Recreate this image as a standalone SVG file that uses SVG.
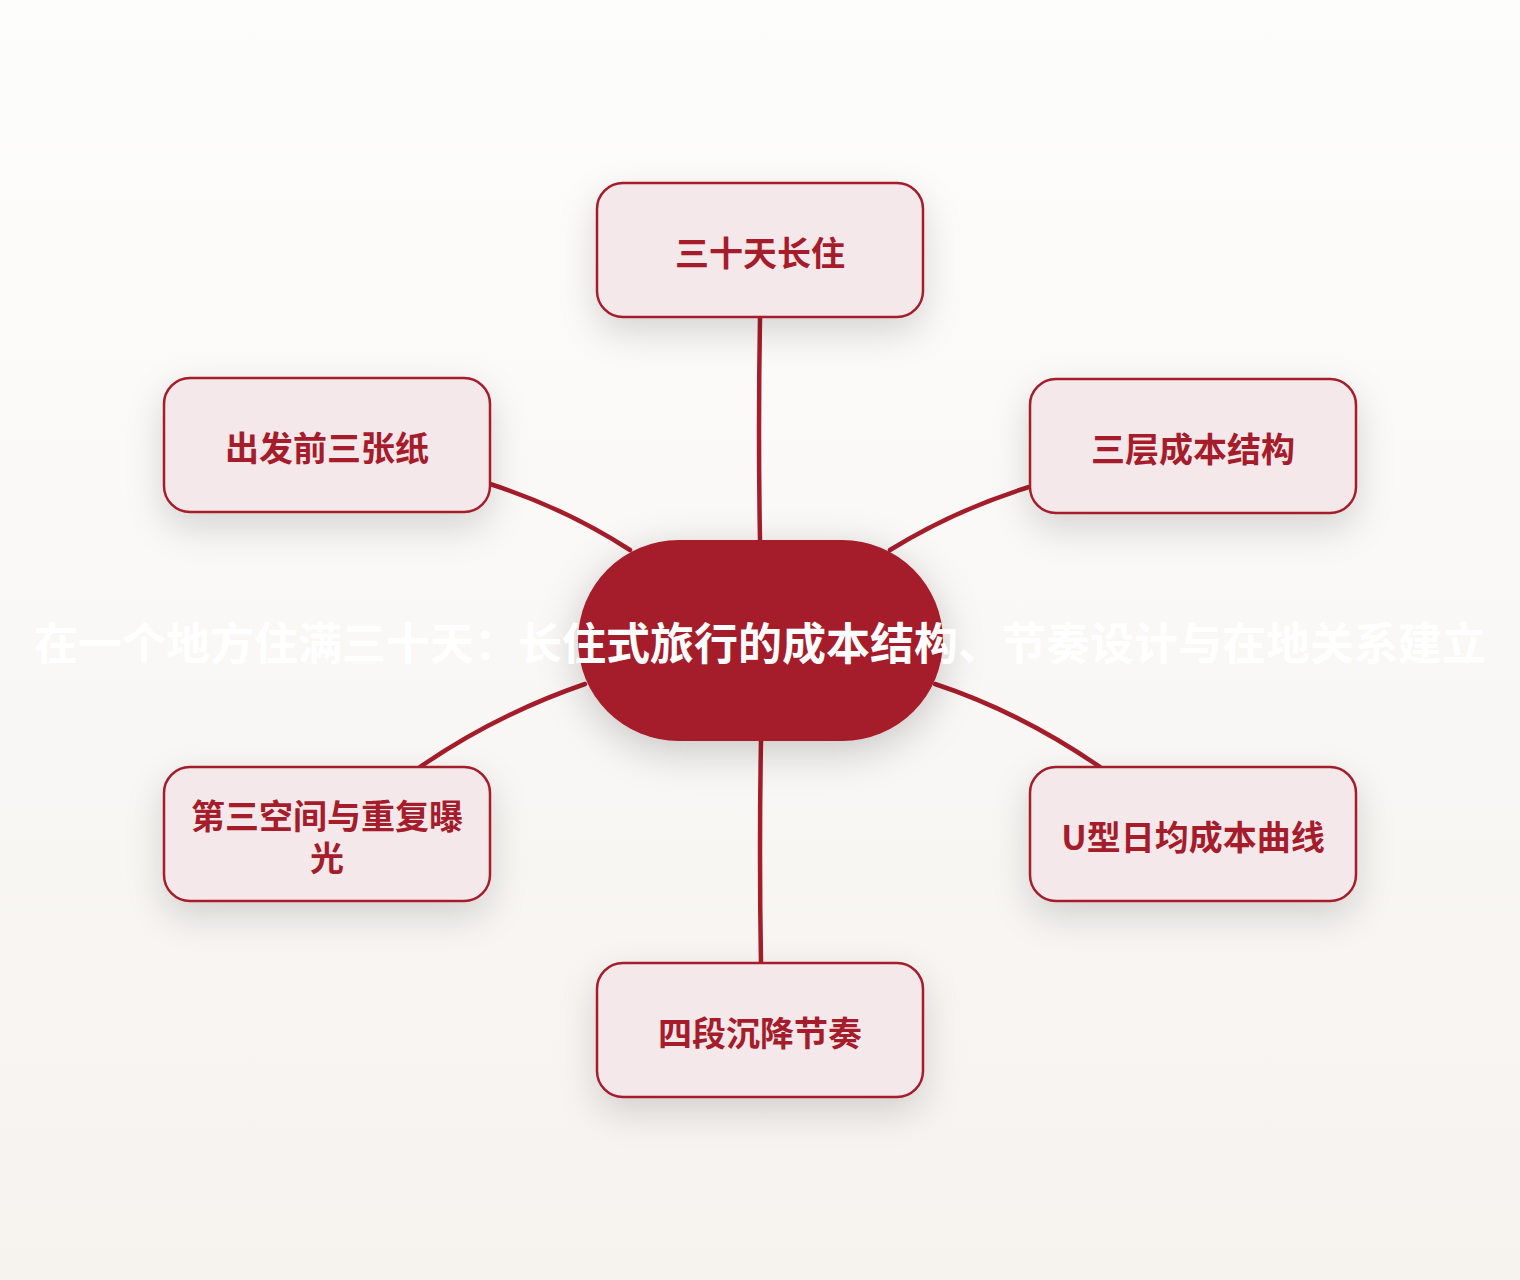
<svg xmlns="http://www.w3.org/2000/svg" width="1520" height="1280" viewBox="0 0 1520 1280">
<defs>
<linearGradient id="bg" x1="0" y1="0" x2="0" y2="1">
<stop offset="0" stop-color="#FDFDFC"/>
<stop offset="1" stop-color="#F6F3EF"/>
</linearGradient>
<filter id="sh" x="-30%" y="-40%" width="160%" height="200%">
<feDropShadow dx="0" dy="14" stdDeviation="18" flood-color="#000" flood-opacity="0.15"/>
</filter>
<filter id="shc" x="-30%" y="-40%" width="160%" height="190%">
<feDropShadow dx="0" dy="10" stdDeviation="20" flood-color="#000" flood-opacity="0.2"/>
</filter>
</defs>
<style>
.box{fill:#F5E8EB;stroke:#A51C2B;stroke-width:2.5;filter:url(#sh)}
.lbl{font-family:"Noto Sans CJK SC","Noto Sans",sans-serif;font-weight:700;font-size:34px;fill:#A51C2B;text-anchor:middle;dominant-baseline:central}
.edge{fill:none;stroke:#A51C2B;stroke-width:4.5;stroke-linecap:round}
.title{font-family:"Noto Sans CJK SC","Noto Sans",sans-serif;font-weight:700;font-size:44px;fill:#FFFFFF;text-anchor:middle;dominant-baseline:central}
</style>
<rect width="1520" height="1280" fill="url(#bg)"/>
<g id="connectors">
<path class="edge" d="M760,318 Q758,430 760,540"/>
<path class="edge" d="M490,484 Q565,508 630,550"/>
<path class="edge" d="M1029,487 Q955,510 890,550"/>
<path class="edge" d="M585,684 Q495,715 420,767"/>
<path class="edge" d="M935,684 Q1020,712 1100,767"/>
<path class="edge" d="M761,741 Q759,850 761,963"/>
</g>
<g id="center">
<rect x="578" y="540" width="365" height="201" rx="100.5" fill="#A51C2B" filter="url(#shc)"/>
</g>
<g id="n1">
<rect class="box" x="597" y="183" width="326" height="134" rx="26"/>
<text class="lbl" x="760" y="251">三十天长住</text>
</g>
<g id="n2">
<rect class="box" x="1030" y="379" width="326" height="134" rx="26"/>
<text class="lbl" x="1193" y="447">三层成本结构</text>
</g>
<g id="n3">
<rect class="box" x="1030" y="767" width="326" height="134" rx="26"/>
<text class="lbl" x="1193" y="835">U型日均成本曲线</text>
</g>
<g id="n4">
<rect class="box" x="597" y="963" width="326" height="134" rx="26"/>
<text class="lbl" x="760" y="1031">四段沉降节奏</text>
</g>
<g id="n5">
<rect class="box" x="164" y="767" width="326" height="134" rx="26"/>
<text class="lbl"><tspan x="327" y="814">第三空间与重复曝</tspan><tspan x="327" y="856">光</tspan></text>
</g>
<g id="n6">
<rect class="box" x="164" y="378" width="326" height="134" rx="26"/>
<text class="lbl" x="327" y="446">出发前三张纸</text>
</g>
<text class="title" x="760" y="641">在一个地方住满三十天：长住式旅行的成本结构、节奏设计与在地关系建立</text>
</svg>
